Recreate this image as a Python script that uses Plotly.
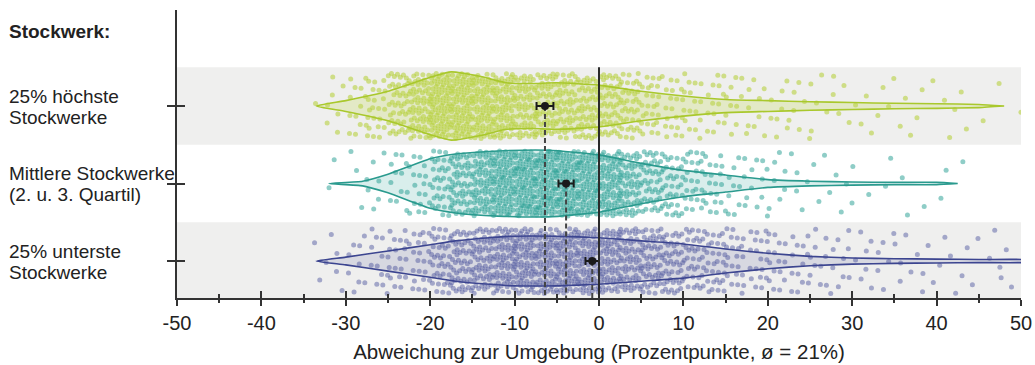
import numpy as np
import plotly.graph_objects as go

# ---------------------------------------------------------------- data
cat_line1 = ["25% unterste", "Mittlere Stockwerke", "25% höchste"]
cat_line2 = ["Stockwerke", "(2. u. 3. Quartil)", "Stockwerke"]
cat_pos = [0, 1, 2]

# histogram of individual observations (counts per 2.5-point bin)
bin_lo = [-35, -32.5, -30, -27.5, -25, -22.5, -20, -17.5, -15, -12.5, -10, -7.5,
          -5, -2.5, 0, 2.5, 5, 7.5, 10, 12.5, 15, 17.5, 20, 22.5, 25, 27.5,
          30, 32.5, 35, 37.5, 40, 42.5, 45, 47.5]
counts_bottom = [2, 5, 9, 13, 18, 22, 38, 52, 60, 70, 75, 75, 75, 75, 68, 62, 54, 46,
                 36, 29, 22, 18, 15, 13, 11, 9, 7, 6, 5, 5, 4, 4, 3, 3]
counts_middle = [0, 2, 4, 6, 12, 18, 35, 55, 72, 88, 95, 95, 92, 88, 78, 62, 45, 35,
                 25, 20, 12, 10, 7, 5, 4, 4, 2, 2, 2, 1, 2, 1, 0, 0]
counts_top = [1, 7, 13, 22, 45, 65, 85, 85, 78, 72, 62, 58, 56, 54, 50, 40, 26, 19,
              16, 14, 11, 9, 8, 7, 5, 5, 4, 4, 3, 3, 3, 2, 2, 1]
BIN_W = 2.5

# violin outlines: x positions and half widths (in category units)
vx_top = [-33.5, -30, -25, -20, -17.5, -14, -11, -8, -5, 0, 5, 10, 15, 20, 25, 30, 35, 40, 45, 48]
vw_top = [0.0, 0.07, 0.19, 0.37, 0.44, 0.38, 0.30, 0.29, 0.30, 0.27, 0.19, 0.13, 0.085, 0.07, 0.055, 0.045, 0.035, 0.03, 0.02, 0.0]
vx_mid = [-32, -28, -25, -20, -17, -12, -6, 0, 5, 10, 15, 20, 25, 30, 35, 40, 42.5]
vw_mid = [0.0, 0.03, 0.12, 0.32, 0.38, 0.42, 0.43, 0.37, 0.26, 0.17, 0.11, 0.05, 0.03, 0.02, 0.015, 0.015, 0.0]
vx_bot = [-33.5, -30, -25, -20, -17, -13, -10, -5, 0, 5, 10, 15, 20, 25, 30, 35, 40, 45, 50, 52]
vw_bot = [0.0, 0.05, 0.13, 0.21, 0.26, 0.30, 0.32, 0.32, 0.30, 0.26, 0.22, 0.155, 0.10, 0.06, 0.04, 0.03, 0.025, 0.02, 0.02, 0.0]

# group means with their confidence interval (half length)
means = [-0.8, -3.9, -6.4]
mean_err = [0.8, 0.9, 1.0]

x_ticks = [-50, -40, -30, -20, -10, 0, 10, 20, 30, 40, 50]
x_tick_text = ["-50", "-40", "-30", "-20", "-10", "0", "10", "20", "30", "40", "50"]

# ---------------------------------------------------------------- style
line_cols = ["#3c4590", "#2a9a8e", "#a9c82c"]
pt_cols = ["rgba(78,86,158,0.48)", "rgba(40,160,148,0.52)", "rgba(178,206,50,0.55)"]
fill_cols = ["rgba(70,80,150,0.14)", "rgba(42,160,148,0.18)", "rgba(190,215,80,0.25)"]
FONT = "Liberation Sans, Arial, sans-serif"
AX = "#333333"
Y_MIN, Y_MAX = -0.477, 3.239
JITTER = 0.42
LABEL_X = -0.202

# R2 low-discrepancy spread for placing the points of each bin
G = 1.32471795724474602596
A1, A2 = 1.0 / G, 1.0 / (G * G)


def spread(lo_list, cnts, centre, offset):
    xs, ys = [], []
    k0 = offset
    for lo, n in zip(lo_list, cnts):
        for k in range(n):
            kk = k0 + k
            xs.append(lo + BIN_W * ((0.5 + A1 * kk) % 1.0))
            ys.append(centre + 2 * JITTER * (((0.5 + A2 * kk) % 1.0) - 0.5))
        k0 += n + 7
    return xs, ys


fig = go.Figure()

all_counts = [counts_bottom, counts_middle, counts_top]
violins = [(vx_bot, vw_bot), (vx_mid, vw_mid), (vx_top, vw_top)]

for i, c in enumerate(cat_pos):
    px, py = spread(bin_lo, all_counts[i], c, 31 * i + 3)
    fig.add_trace(go.Scatter(
        x=px, y=py, mode="markers",
        marker=dict(size=5, color=pt_cols[i], line=dict(width=0)),
        showlegend=False, hoverinfo="skip"))

for i, c in enumerate(cat_pos):
    vx, vw = violins[i]
    vx = np.array(vx, dtype=float)
    vw = np.array(vw, dtype=float)
    fig.add_trace(go.Scatter(
        x=np.concatenate([vx, vx[::-1]]),
        y=np.concatenate([c + vw, (c - vw)[::-1]]),
        mode="lines", fill="toself", fillcolor=fill_cols[i],
        line=dict(color=line_cols[i], width=1.6, shape="spline", smoothing=0.5),
        showlegend=False, hoverinfo="skip"))

# dashed guides from each mean down to the axis
for i, c in enumerate(cat_pos):
    fig.add_trace(go.Scatter(
        x=[means[i], means[i]], y=[c, Y_MIN], mode="lines",
        line=dict(color="#444444", width=2, dash="5px,3px"),
        showlegend=False, hoverinfo="skip"))

# means with error bars
fig.add_trace(go.Scatter(
    x=means, y=cat_pos, mode="markers",
    marker=dict(size=8, color="#1a1a1a"),
    error_x=dict(type="data", array=mean_err, color="#1a1a1a", thickness=2, width=4),
    showlegend=False, hoverinfo="skip"))

# invisible helpers so the crossing-tick axes get drawn
fig.add_trace(go.Scatter(x=[None], y=[None], xaxis="x2", yaxis="y",
                         showlegend=False, hoverinfo="skip"))
fig.add_trace(go.Scatter(x=[None], y=[None], xaxis="x", yaxis="y2",
                         showlegend=False, hoverinfo="skip"))

# background bands
for c in (0, 2):
    fig.add_shape(type="rect", xref="x", yref="y", x0=-50, x1=50,
                  y0=max(c - 0.5, Y_MIN), y1=c + 0.5,
                  fillcolor="#efefee", line=dict(width=0), layer="below")

# reference line at zero
fig.add_shape(type="line", xref="x", yref="y", x0=0, x1=0, y0=2.5, y1=Y_MIN,
              line=dict(color="#2a2a2a", width=2), layer="above")

# labels
lab_font = dict(family=FONT, size=19, color="#222")
fig.add_annotation(text="<b>Stockwerk:</b>", xref="paper", yref="paper",
                   x=LABEL_X, y=0.924, xanchor="left", yanchor="middle",
                   showarrow=False, font=lab_font)
for l1, l2, c in zip(cat_line1, cat_line2, cat_pos):
    for txt, dy in ((l1, 0.125), (l2, -0.145)):
        fig.add_annotation(text=txt, xref="paper", yref="y", x=LABEL_X, y=c + dy,
                           xanchor="left", yanchor="middle", align="left",
                           showarrow=False, font=lab_font)

fig.update_layout(
    width=1035, height=365,
    margin=dict(l=177, r=14, t=10, b=67, autoexpand=False),
    paper_bgcolor="white", plot_bgcolor="white",
    font=dict(family=FONT, color="#222"),
    showlegend=False,
    xaxis=dict(range=[-50, 50], tickvals=x_ticks, ticktext=x_tick_text,
               ticks="outside", ticklen=6, automargin=False,
               tickwidth=2, tickcolor=AX, showline=True, linecolor=AX, linewidth=2,
               showgrid=False, zeroline=False,
               minor=dict(ticks="outside", dtick=5, ticklen=3, tickwidth=1.5,
                          tickcolor=AX, showgrid=False),
               tickfont=dict(family=FONT, size=20, color="#222"),
               title=dict(text="Abweichung zur Umgebung (Prozentpunkte, ø = 21%)",
                          font=dict(family=FONT, size=20.5, color="#222"), standoff=12)),
    xaxis2=dict(range=[-50, 50], overlaying="x", anchor="y", side="bottom",
                tickvals=x_ticks, ticks="inside", ticklen=7, tickwidth=2,
                tickcolor=AX, showticklabels=False, showline=False, automargin=False,
                showgrid=False, zeroline=False,
                minor=dict(ticks="inside", dtick=5, ticklen=4, tickwidth=1.5,
                           tickcolor=AX, showgrid=False)),
    yaxis=dict(range=[Y_MIN, Y_MAX], tickvals=cat_pos, ticks="outside", ticklen=8,
               tickwidth=2, tickcolor=AX, showticklabels=False, showline=True,
               linecolor=AX, linewidth=2, showgrid=False, zeroline=False,
               automargin=False),
    yaxis2=dict(range=[Y_MIN, Y_MAX], overlaying="y", anchor="x", side="left",
                tickvals=cat_pos, ticks="inside", ticklen=8, tickwidth=2,
                tickcolor=AX, showticklabels=False, showline=False,
                showgrid=False, zeroline=False, automargin=False),
)

fig.write_html("out.html")
